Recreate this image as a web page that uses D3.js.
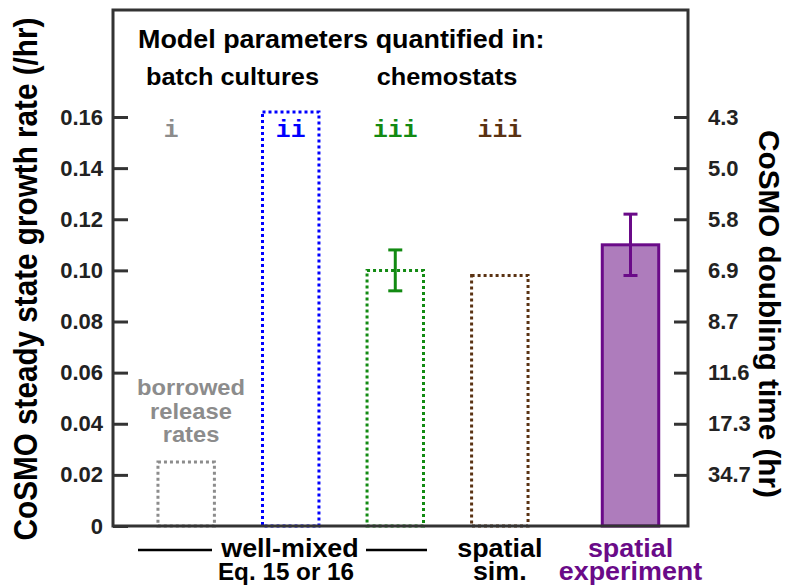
<!DOCTYPE html>
<html>
<head>
<meta charset="utf-8">
<script src="https://cdn.jsdelivr.net/npm/d3@7"></script>
<style>
  body { margin: 0; background: #fff; }
  svg text { font-family: "Liberation Sans", Arial, sans-serif; font-weight: bold; }
</style>
</head>
<body>
<svg id="chart" width="786" height="586"></svg>
<script>
// bars, left to right
var barPos = [1, 2, 3, 4, 5.25];
var barValues = [0.025, 0.162, 0.100, 0.098, 0.110];
var barErrors = [null, null, 0.008, null, 0.012];
var barColors = ["#8c8c8c", "#0000ff", "#128a12", "#5a3212", "#6a0a88"];
var barDotted = [true, true, true, true, false];
var numerals = ["i\u00a0\u00a0", "ii", "iii", "iii", null];
var leftTicks = [0, 0.02, 0.04, 0.06, 0.08, 0.10, 0.12, 0.14, 0.16];
var rightTicks = [0.02, 0.04, 0.06, 0.08, 0.10, 0.12, 0.14, 0.16];

var svg = d3.select("#chart");
var plotLeft = 113, plotRight = 688, plotTop = 10, plotBottom = 526;

var x = d3.scaleLinear().domain([0.3, 5.8]).range([plotLeft, plotRight]);
var y = d3.scaleLinear().domain([0, 0.16]).range([plotBottom, 117]);
var barW = 0.54;
var axisColor = "#333";
var stretch = 1.055; // the reference type is a little wider than Liberation Sans

// text helper, slightly widened about its anchor
function label(px, py, txt, size, anchor, color) {
    return svg.append("text")
        .attr("transform", "translate(" + px + "," + py + ") scale(" + stretch + ",1)")
        .attr("text-anchor", anchor || "middle")
        .attr("fill", color || "#000")
        .style("font-size", size + "px")
        .text(txt);
}

// bars
barValues.forEach(function (v, i) {
    var x0 = x(barPos[i] - barW / 2), x1 = x(barPos[i] + barW / 2);
    svg.append("rect")
        .attr("x", x0).attr("y", y(v))
        .attr("width", x1 - x0).attr("height", y(0) - y(v))
        .attr("fill", barDotted[i] ? "none" : "#ae7cbc")
        .attr("stroke", barColors[i])
        .attr("stroke-width", 3)
        .attr("stroke-dasharray", barDotted[i] ? "3,3" : null);
    if (barErrors[i] != null) {
        var cx = x(barPos[i]);
        var g = svg.append("g").attr("stroke", barColors[i]).attr("stroke-width", 3);
        g.append("line").attr("x1", cx).attr("x2", cx)
            .attr("y1", y(v + barErrors[i])).attr("y2", y(v - barErrors[i]));
        [v + barErrors[i], v - barErrors[i]].forEach(function (e) {
            g.append("line").attr("x1", cx - 7).attr("x2", cx + 7)
                .attr("y1", y(e)).attr("y2", y(e));
        });
    }
    if (numerals[i]) {
        label(x(barPos[i]), 137, numerals[i], 23.5, "middle", barColors[i])
            .style("font-family", "'Liberation Mono', 'Courier New', monospace");
    }
});

// axes
var leftAxis = d3.axisLeft(y).tickValues(leftTicks).tickSizeInner(-15).tickSizeOuter(0)
    .tickPadding(10).tickFormat(function (d) { return d === 0 ? "0" : d3.format(".2f")(d); });
var rightAxis = d3.axisRight(y).tickValues(rightTicks).tickSizeInner(-14).tickSizeOuter(0)
    .tickPadding(20).tickFormat(function (d) { return d3.format(".1f")(Math.LN2 / d); });

var gl = svg.append("g").attr("transform", "translate(" + plotLeft + ",0)").call(leftAxis);
var gr = svg.append("g").attr("transform", "translate(" + plotRight + ",0)").call(rightAxis);
[gl, gr].forEach(function (g) {
    g.select(".domain").remove();
    g.selectAll(".tick line").attr("stroke", axisColor).attr("stroke-width", 3);
    g.selectAll(".tick text").attr("fill", "#222").style("font-size", "22px");
});

// frame: left, top, right, bottom
svg.append("path")
    .attr("d", "M" + plotLeft + "," + plotBottom + "V" + plotTop + "H" + plotRight + "V" + plotBottom + "Z")
    .attr("fill", "none").attr("stroke", axisColor).attr("stroke-width", 3);

// axis titles (the reference type is narrow here)
svg.append("text")
    .attr("transform", "translate(37,279) rotate(-90) scale(0.9,1)")
    .attr("text-anchor", "middle").style("font-size", "33px")
    .text("CoSMO steady state growth rate (/hr)");
svg.append("text")
    .attr("transform", "translate(759,314) rotate(90) scale(0.99,1)")
    .attr("text-anchor", "middle").style("font-size", "30px")
    .text("CoSMO doubling time (hr)");

// header
label(138, 48, "Model parameters quantified in:", 25.5, "start");
label(232.5, 85, "batch cultures", 24);
label(447, 85, "chemostats", 24);

// borrowed release rates
["borrowed", "release", "rates"].forEach(function (t, i) {
    label(191, 395 + i * 23.5, t, 22.5, "middle", "#8c8c8c");
});

// bottom labels
label(290, 557, "well-mixed", 25.5);
label(286, 580, "Eq. 15 or 16", 23);
svg.append("line").attr("x1", 138).attr("x2", 212).attr("y1", 550).attr("y2", 550)
    .attr("stroke", "#000").attr("stroke-width", 2.5);
svg.append("line").attr("x1", 366).attr("x2", 427).attr("y1", 550).attr("y2", 550)
    .attr("stroke", "#000").attr("stroke-width", 2.5);
["spatial", "sim."].forEach(function (t, i) {
    label(x(barPos[3]), 557 + i * 23, t, 25.5);
});
["spatial", "experiment"].forEach(function (t, i) {
    label(x(barPos[4]), 557 + i * 22.5, t, 25.5, "middle", barColors[4]);
});
</script>
</body>
</html>
